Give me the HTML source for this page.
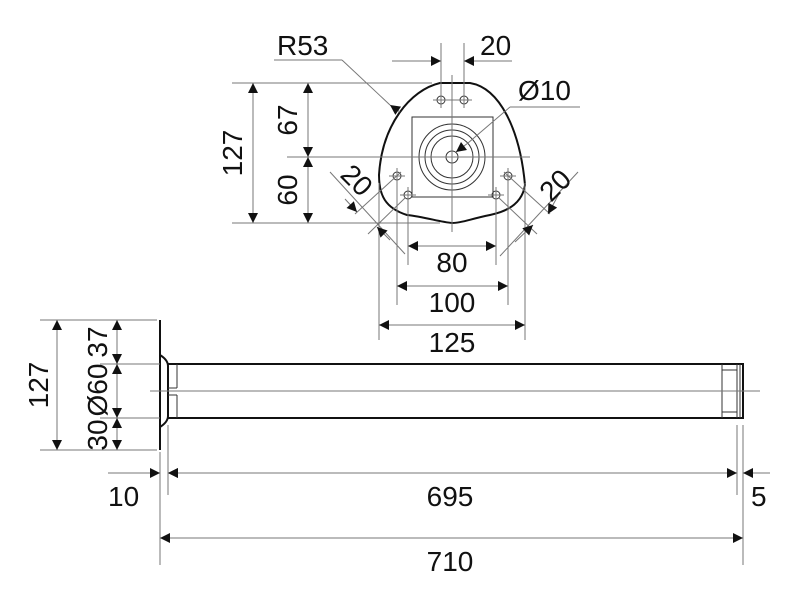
<!DOCTYPE html>
<html><head><style>
body{margin:0;background:#fff}
svg{display:block}
text{font-family:"Liberation Sans",sans-serif;font-size:28px;fill:#111}
.t{stroke:#777;stroke-width:1;fill:none}
.k{stroke:#111;stroke-width:2;fill:none}
.m{stroke:#333;stroke-width:1;fill:none}
</style></head><body>
<svg width="800" height="600" viewBox="0 0 800 600">
<defs>
<marker id="a" viewBox="0 0 10 10" refX="10" refY="5" markerWidth="14" markerHeight="10" markerUnits="userSpaceOnUse" orient="auto"><path d="M0,0L10,5L0,10z" fill="#111"/></marker>
<marker id="b" viewBox="0 0 10 10" refX="0" refY="5" markerWidth="14" markerHeight="10" markerUnits="userSpaceOnUse" orient="auto"><path d="M10,0L0,5L10,10z" fill="#111"/></marker>
</defs>
<!-- TOP VIEW -->
<path class="k" d="M440,83 L470,83 C500,88 520,130 525,185 C522,205 505,212 490,215 C470,219 462,223 452,223 C440,222 425,217 407,215 C385,208 379,195 379,175 C382,125 410,90 440,83 Z"/>
<rect class="m" x="412" y="117" width="81" height="80"/>
<circle class="m" cx="452" cy="157" r="33"/>
<circle class="m" cx="452" cy="157" r="27"/>
<circle class="m" cx="452" cy="157" r="21"/>
<circle class="m" cx="452" cy="157" r="6"/>
<g class="m">
<circle cx="441" cy="100" r="4"/><circle cx="464" cy="100" r="4"/>
<circle cx="397" cy="176" r="4"/><circle cx="508" cy="176" r="4"/>
<circle cx="408" cy="195" r="4"/><circle cx="496" cy="195" r="4"/>
</g>
<g class="t">
<line x1="452" y1="75" x2="452" y2="232"/>
<line x1="287" y1="157" x2="530" y2="157"/>
<line x1="433" y1="100" x2="472" y2="100"/>
<line x1="389" y1="176" x2="405" y2="176"/><line x1="500" y1="176" x2="516" y2="176"/>
<line x1="400" y1="195" x2="416" y2="195"/><line x1="488" y1="195" x2="504" y2="195"/>
<line x1="441" y1="43" x2="441" y2="108"/><line x1="464" y1="43" x2="464" y2="108"/>
<line x1="232" y1="83" x2="432" y2="83"/><line x1="232" y1="223" x2="440" y2="223"/>
<line x1="397" y1="168" x2="397" y2="305"/><line x1="508" y1="168" x2="508" y2="305"/>
<line x1="408" y1="187" x2="408" y2="265"/><line x1="496" y1="187" x2="496" y2="265"/>
<line x1="379" y1="183" x2="379" y2="340"/><line x1="525" y1="183" x2="525" y2="340"/>
<line x1="274" y1="60" x2="342" y2="60"/><line x1="342" y1="60" x2="390" y2="105"/>
<line x1="580" y1="107" x2="510" y2="107"/><line x1="510" y1="107" x2="468" y2="143"/>
<line x1="392" y1="61" x2="432" y2="61"/><line x1="473" y1="61" x2="512" y2="61"/>
<line x1="401" y1="172" x2="355" y2="214"/><line x1="405" y1="198" x2="368" y2="234"/>
<line x1="330" y1="172" x2="405" y2="254"/>
<line x1="504" y1="172" x2="550" y2="214"/><line x1="499" y1="198" x2="537" y2="234"/>
<line x1="578" y1="172" x2="500" y2="256"/>
</g>
<g class="t" stroke="#555">
<line x1="400" y1="112" x2="390" y2="105" marker-end="url(#a)"/>
<line x1="468" y1="143" x2="456" y2="152" marker-end="url(#a)"/>
<line x1="425" y1="61" x2="441" y2="61" marker-end="url(#a)"/>
<line x1="480" y1="61" x2="464" y2="61" marker-end="url(#a)"/>
<line x1="253" y1="83" x2="253" y2="223" marker-start="url(#b)" marker-end="url(#a)"/>
<line x1="308" y1="83" x2="308" y2="157" marker-start="url(#b)" marker-end="url(#a)"/>
<line x1="308" y1="157" x2="308" y2="223" marker-start="url(#b)" marker-end="url(#a)"/>
<line x1="408" y1="246" x2="496" y2="246" marker-start="url(#b)" marker-end="url(#a)"/>
<line x1="397" y1="286" x2="508" y2="286" marker-start="url(#b)" marker-end="url(#a)"/>
<line x1="379" y1="325" x2="525" y2="325" marker-start="url(#b)" marker-end="url(#a)"/>
<line x1="345" y1="199" x2="357" y2="212" marker-end="url(#a)"/>
<line x1="390" y1="240" x2="377" y2="227" marker-end="url(#a)"/>
<line x1="560" y1="192" x2="548" y2="214" marker-end="url(#a)"/>
<line x1="515" y1="242" x2="533" y2="225" marker-end="url(#a)"/>
</g>
<text x="277" y="55">R53</text>
<text x="480" y="55">20</text>
<text x="518" y="100">Ø10</text>
<text x="452" y="272" text-anchor="middle">80</text>
<text x="452" y="312" text-anchor="middle">100</text>
<text x="452" y="352" text-anchor="middle">125</text>
<text transform="translate(242,153) rotate(-90)" text-anchor="middle">127</text>
<text transform="translate(297,120) rotate(-90)" text-anchor="middle">67</text>
<text transform="translate(297,190) rotate(-90)" text-anchor="middle">60</text>
<text transform="translate(350,187) rotate(45)" text-anchor="middle">20</text>
<text transform="translate(562,192) rotate(-45)" text-anchor="middle">20</text>
<!-- SIDE VIEW -->
<line class="k" x1="160" y1="320" x2="160" y2="450"/>
<path class="k" d="M160,355 Q168,360 168,366 L168,416 Q168,422 160,427" stroke-width="1.2"/>
<path class="k" d="M168,364 L743,364 L743,418 L168,418"/>
<g class="m">
<line x1="177" y1="364" x2="177" y2="388"/><line x1="177" y1="395" x2="177" y2="418"/>
<line x1="168" y1="388" x2="177" y2="388"/><line x1="168" y1="395" x2="177" y2="395"/>
<line x1="722" y1="364" x2="722" y2="418"/><line x1="737" y1="364" x2="737" y2="418"/><line x1="740" y1="364" x2="740" y2="418"/>
<line x1="722" y1="370" x2="737" y2="370"/><line x1="722" y1="412" x2="737" y2="412"/>
</g>
<g class="t">
<line x1="150" y1="391" x2="760" y2="391"/>
<line x1="40" y1="320" x2="157" y2="320"/><line x1="40" y1="450" x2="157" y2="450"/>
<line x1="100" y1="364" x2="160" y2="364"/><line x1="100" y1="418" x2="160" y2="418"/>
<line x1="160" y1="452" x2="160" y2="565"/><line x1="168" y1="425" x2="168" y2="495"/>
<line x1="737" y1="425" x2="737" y2="495"/><line x1="743" y1="425" x2="743" y2="565"/>
<line x1="108" y1="473" x2="160" y2="473"/><line x1="743" y1="473" x2="770" y2="473"/>
</g>
<g class="t" stroke="#555">
<line x1="57" y1="320" x2="57" y2="450" marker-start="url(#b)" marker-end="url(#a)"/>
<line x1="117" y1="320" x2="117" y2="364" marker-start="url(#b)" marker-end="url(#a)"/>
<line x1="117" y1="364" x2="117" y2="418" marker-start="url(#b)" marker-end="url(#a)"/>
<line x1="117" y1="418" x2="117" y2="450" marker-start="url(#b)" marker-end="url(#a)"/>
<line x1="145" y1="473" x2="160" y2="473" marker-end="url(#a)"/>
<line x1="183" y1="473" x2="168" y2="473" marker-end="url(#a)"/>
<line x1="168" y1="473" x2="737" y2="473" marker-start="url(#b)" marker-end="url(#a)"/>
<line x1="758" y1="473" x2="743" y2="473" marker-end="url(#a)"/>
<line x1="160" y1="538" x2="743" y2="538" marker-start="url(#b)" marker-end="url(#a)"/>
</g>
<text transform="translate(48,385) rotate(-90)" text-anchor="middle">127</text>
<text transform="translate(107,342) rotate(-90)" text-anchor="middle">37</text>
<text transform="translate(107,390) rotate(-90)" text-anchor="middle">Ø60</text>
<text transform="translate(107,435) rotate(-90)" text-anchor="middle">30</text>
<text x="108" y="506">10</text>
<text x="450" y="506" text-anchor="middle">695</text>
<text x="751" y="506">5</text>
<text x="450" y="571" text-anchor="middle">710</text>
</svg>
</body></html>
